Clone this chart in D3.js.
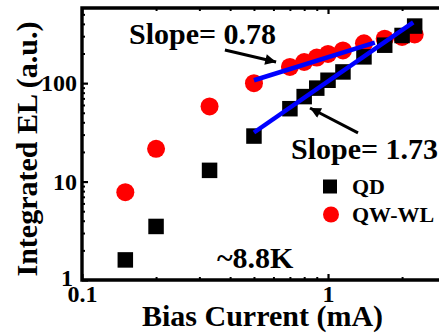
<!DOCTYPE html>
<html>
<head>
<meta charset="utf-8">
<script src="https://cdn.jsdelivr.net/npm/d3@7"></script>
<style>
  html, body { margin: 0; padding: 0; background: #fff; }
  svg { display: block; }
  text { font-family: "Liberation Serif", "Times New Roman", serif; font-weight: bold; fill: #000; }
</style>
</head>
<body>
<svg id="chart" width="439" height="333"></svg>
<script>
// Bias current (mA) at each measured point
const current = [0.15, 0.2, 0.33, 0.5, 0.7, 0.8, 0.9, 1.0, 1.15, 1.4, 1.7, 2.0, 2.25];
// Integrated EL (a.u.) of the quantum-dot emission
const qd = [1.6, 3.5, 13, 29, 55, 73, 89, 107, 130, 185, 243, 305, 380];
// Integrated EL (a.u.) of the quantum-well / wetting-layer emission
const qwwl = [7.8, 21.5, 58, 100, 146, 164, 182, 198, 215, 254, 283, 295, 312];

// Power-law fits: EL = a * (I / I0)^slope
const fitQD = { slope: 1.73, a: 31.5, i0: 0.5, from: 0.5, to: 2.22 };
const fitWL = { slope: 0.78, a: 107, i0: 0.5, from: 0.5, to: 1.55 };

const yMajor = [1, 10, 100];
const xMajor = [0.1, 1];
const yMinor = [2,3,4,5,6,7,8,9,20,30,40,50,60,70,80,90,200,300,400,500];
const xMinor = [0.2,0.3,0.4,0.5,0.6,0.7,0.8,0.9,2,3];

(function draw() {
  const svg = d3.select("#chart");

  const x = d3.scaleLog().domain([0.1, 3]).range([82, 445.4]);
  const y = d3.scaleLog().domain([1, 580]).range([280, 8]);

  // Markers: circles first, squares over them
  svg.append("g").selectAll("circle")
    .data(current.map((c, i) => [c, qwwl[i]]))
    .join("circle")
    .attr("cx", d => x(d[0])).attr("cy", d => y(d[1]))
    .attr("r", 9).attr("fill", "#ff0000");

  const sq = 15.5;
  svg.append("g").selectAll("rect")
    .data(current.map((c, i) => [c, qd[i]]))
    .join("rect")
    .attr("x", d => x(d[0]) - sq / 2).attr("y", d => y(d[1]) - sq / 2)
    .attr("width", sq).attr("height", sq).attr("fill", "#000");

  // Fit lines
  function fitLine(f) {
    const pts = [f.from, f.to].map(c => [c, f.a * Math.pow(c / f.i0, f.slope)]);
    svg.append("line")
      .attr("x1", x(pts[0][0])).attr("y1", y(pts[0][1]))
      .attr("x2", x(pts[1][0])).attr("y2", y(pts[1][1]))
      .attr("stroke", "#0000ff").attr("stroke-width", 4.5).attr("stroke-linecap", "butt");
  }
  fitLine(fitWL);
  fitLine(fitQD);

  // Axes with inward ticks
  function styleAxis(g, width) {
    g.select(".domain").remove();
    g.selectAll(".tick line").attr("stroke", "#000").attr("stroke-width", width);
    g.selectAll("text").style("font-size", "24px").attr("fill", "#000");
  }
  const leftAxis = svg.append("g").attr("transform", "translate(82,0)")
    .call(d3.axisLeft(y).tickValues(yMajor).tickSize(-6).tickPadding(5).tickFormat(d3.format("d")));
  styleAxis(leftAxis, 2.2);
  // the lowest label sits a little up and left, clear of the 0.1 below it
  leftAxis.selectAll(".tick text").filter(d => d === 1).attr("dx", -4).attr("dy", "0.22em");
  const leftMinor = svg.append("g").attr("transform", "translate(82,0)")
    .call(d3.axisLeft(y).tickValues(yMinor).tickSize(-3).tickFormat(""));
  styleAxis(leftMinor, 2);

  const bottomAxis = svg.append("g").attr("transform", "translate(0,280)")
    .call(d3.axisBottom(x).tickValues(xMajor).tickSize(-6).tickPadding(5).tickFormat(d => d === 1 ? "1" : "0.1"));
  styleAxis(bottomAxis, 2.2);
  const bottomMinor = svg.append("g").attr("transform", "translate(0,280)")
    .call(d3.axisBottom(x).tickValues(xMinor).tickSize(-3).tickFormat(""));
  styleAxis(bottomMinor, 2);

  const topAxis = svg.append("g").attr("transform", "translate(0,8)")
    .call(d3.axisTop(x).tickValues(xMajor).tickSize(-6).tickFormat(""));
  styleAxis(topAxis, 2.2);
  const topMinor = svg.append("g").attr("transform", "translate(0,8)")
    .call(d3.axisTop(x).tickValues(xMinor).tickSize(-3).tickFormat(""));
  styleAxis(topMinor, 2);

  // Frame (left, bottom, top spines; right side lies beyond the view)
  const [x0, x1] = x.range();
  svg.append("path")
    .attr("d", `M${x1},${y(580)}H${x0}V${y(1)}H${x1}`)
    .attr("fill", "none").attr("stroke", "#000").attr("stroke-width", 3.4);

  // Axis titles
  svg.append("text").attr("x", 262.5).attr("y", 326).attr("text-anchor", "middle")
    .style("font-size", "30px").text("Bias Current (mA)");
  svg.append("text").attr("transform", "translate(37,149) rotate(-90)").attr("text-anchor", "middle")
    .style("font-size", "30px").text("Integrated EL (a.u.)");

  // Annotations
  svg.append("defs").append("marker")
    .attr("id", "head").attr("viewBox", "0 0 10 10").attr("refX", 10).attr("refY", 5)
    .attr("markerWidth", 4.2).attr("markerHeight", 3.6).attr("markerUnits", "strokeWidth")
    .attr("orient", "auto")
    .append("path").attr("d", "M0,0L10,5L0,10Z").attr("fill", "#000");

  const arrows = [
    { from: [0.381, 217], to: [0.615, 164] },
    { from: [1.324, 31.2], to: [0.845, 55.9] }
  ];
  svg.append("g").selectAll("line").data(arrows).join("line")
    .attr("x1", d => x(d.from[0])).attr("y1", d => y(d.from[1]))
    .attr("x2", d => x(d.to[0])).attr("y2", d => y(d.to[1]))
    .attr("stroke", "#000").attr("stroke-width", 3).attr("marker-end", "url(#head)");

  svg.append("text").attr("x", 129).attr("y", 44).style("font-size", "30px").text("Slope= " + fitWL.slope.toFixed(2));
  svg.append("text").attr("x", 291).attr("y", 159).style("font-size", "30px").text("Slope= " + fitQD.slope.toFixed(2));
  svg.append("text").attr("x", 217).attr("y", 268).style("font-size", "30px").text("~8.8K");

  // Legend
  const lg = svg.append("g");
  lg.append("rect").attr("x", 330 - 7).attr("y", 186.5 - 7).attr("width", 14).attr("height", 14).attr("fill", "#000");
  lg.append("text").attr("x", 352).attr("y", 194).style("font-size", "22px").text("QD");
  lg.append("circle").attr("cx", 331).attr("cy", 214.5).attr("r", 8).attr("fill", "#ff0000");
  lg.append("text").attr("x", 352).attr("y", 222).style("font-size", "22px").text("QW-WL");
})();
</script>
</body>
</html>
